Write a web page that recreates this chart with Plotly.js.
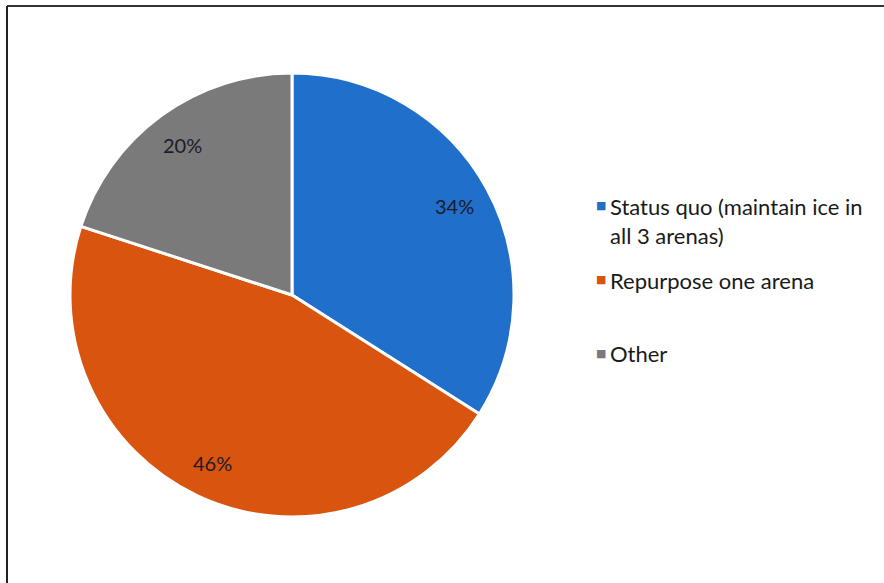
<!DOCTYPE html>
<html>
<head>
<meta charset="utf-8">
<script src="https://cdn.plot.ly/plotly-3.0.1.min.js"></script>
<style>html,body{margin:0;padding:0;background:#fff;}#chart{width:884px;height:583px;}</style>
</head>
<body>
<div id="chart"></div>
<script>
const categories = ["Status quo (maintain ice in<br>all 3 arenas)", "Repurpose one arena", "Other"];
const shares = [34, 46, 20];
const sliceColors = ["#1F6FCB", "#D9540E", "#7A7A7A"];

const W = 884, H = 583;
const cx = 292, cy = 295, R = 221;
const FONT = "Lato, 'Open Sans', sans-serif";

const trace = {
  type: "pie",
  labels: categories,
  values: shares,
  sort: false,
  direction: "clockwise",
  rotation: 0,
  marker: {colors: sliceColors, line: {color: "#ffffff", width: 3}},
  textinfo: "none",
  hoverinfo: "label+percent",
  showlegend: false,
  domain: {x: [(cx - R - 1) / W, (cx + R + 1) / W], y: [1 - (cy + R + 1) / H, 1 - (cy - R - 1) / H]}
};

// data labels at ~0.84 of the radius, at each slice's mid-angle
const total = shares.reduce((a, b) => a + b, 0);
const annotations = [];
let cum = 0;
shares.forEach((v, i) => {
  const mid = (cum + v / 2) / total * 2 * Math.PI;
  cum += v;
  const px = cx + 0.84 * R * Math.sin(mid);
  const py = cy - 0.84 * R * Math.cos(mid);
  annotations.push({
    xref: "paper", yref: "paper", x: px / W, y: 1 - py / H,
    xanchor: "center", yanchor: "middle", showarrow: false,
    text: Math.round(v / total * 100) + "%",
    font: {family: FONT, size: 20, color: "#1c1c2a"}
  });
});

// legend drawn as text entries (symbol aligned with the first text line)
const legendX = 601, textX = 608;
const itemTop = [205, 279, 352];
const legendSize = 22;
const lineH = legendSize * 1.3;
categories.forEach((lab, i) => {
  annotations.push({
    xref: "paper", yref: "paper", x: legendX / W, y: 1 - (itemTop[i] + 1) / H,
    xanchor: "center", yanchor: "middle", showarrow: false,
    text: "■", font: {family: "DejaVu Sans", size: 11, color: sliceColors[i]}
  });
  annotations.push({
    xref: "paper", yref: "paper", x: textX / W, y: 1 - (itemTop[i] - lineH / 2) / H,
    xanchor: "left", yanchor: "top", align: "left", showarrow: false,
    text: lab, font: {family: FONT, size: legendSize, color: "#1a1a1a"}
  });
});

const layout = {
  width: W,
  height: H,
  margin: {l: 0, r: 0, t: 0, b: 0},
  paper_bgcolor: "#ffffff",
  showlegend: false,
  annotations: annotations,
  shapes: [
    {type: "line", xref: "paper", yref: "paper", x0: 7 / W, x1: 1, y0: 1 - 6 / H, y1: 1 - 6 / H, line: {color: "#333333", width: 2}},
    {type: "line", xref: "paper", yref: "paper", x0: 7 / W, x1: 7 / W, y0: 0, y1: 1 - 6 / H, line: {color: "#222222", width: 2}}
  ]
};

Plotly.newPlot("chart", [trace], layout, {staticPlot: true});
</script>
</body>
</html>
